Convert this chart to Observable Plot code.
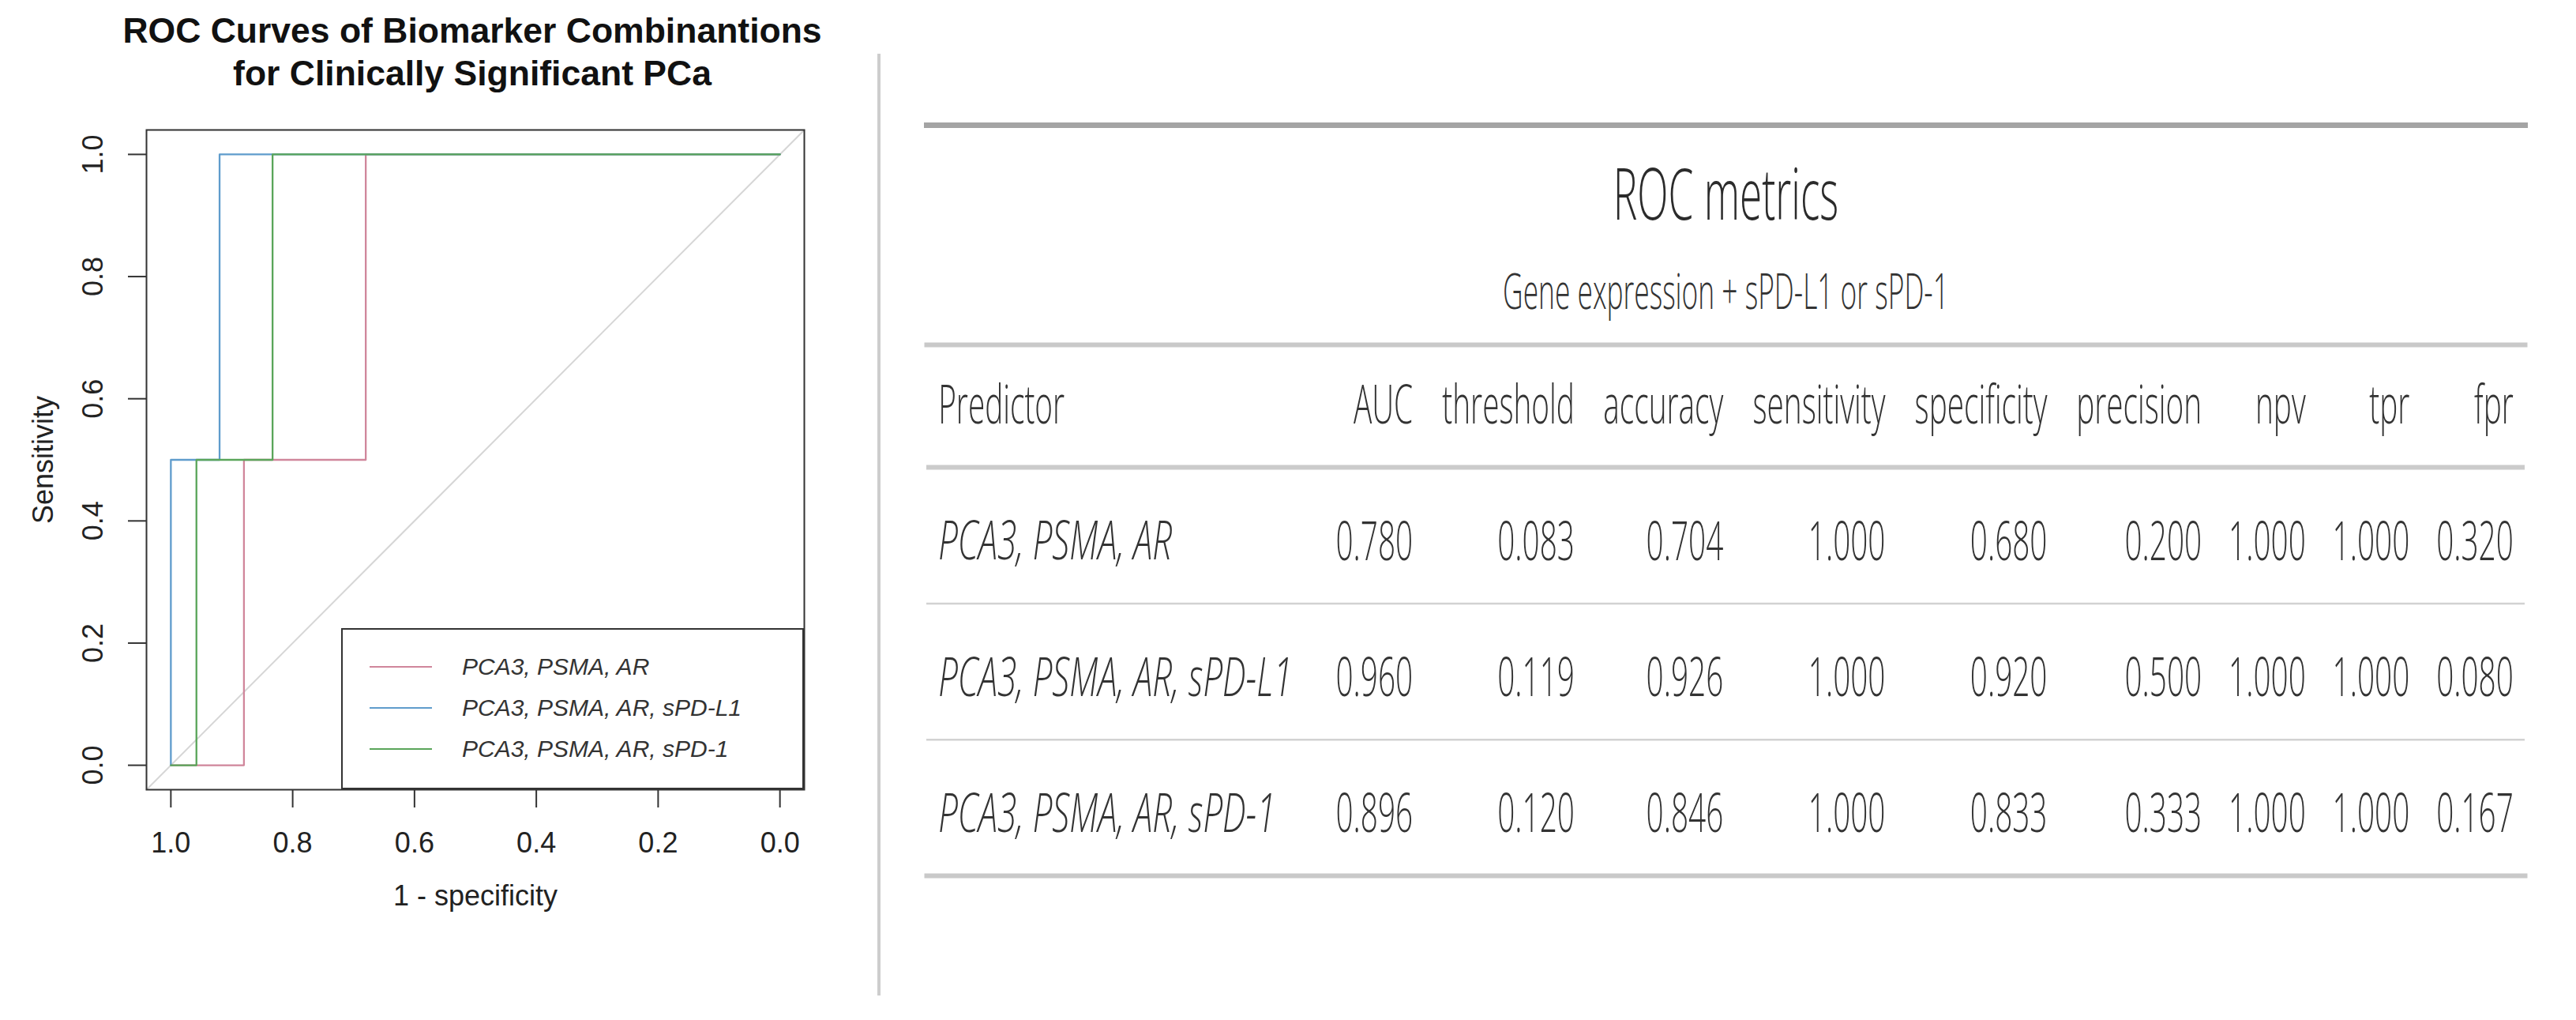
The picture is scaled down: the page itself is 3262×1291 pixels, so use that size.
<!DOCTYPE html>
<html>
<head>
<meta charset="utf-8">
<script src="https://cdn.jsdelivr.net/npm/d3@7"></script>
<script src="https://cdn.jsdelivr.net/npm/@observablehq/plot@0.6"></script>
<style>
  html, body { margin: 0; padding: 0; background: #fff; }
  #page { position: relative; width: 3262px; height: 1291px; overflow: hidden; background: #fff; }
  #roc { position: absolute; left: 0; top: 0; width: 1100px; height: 1291px; }
  #table { position: absolute; left: 1120px; top: 0; width: 2142px; height: 1291px; }
  #sep { position: absolute; left: 1111px; top: 68px; width: 4px; height: 1192px; background: #cdcdcd; }
  #legend { position: absolute; left: 432px; top: 795px; width: 586px; height: 204px; box-sizing: border-box;
            border: 2px solid #333; background: #fff; padding-top: 21px;
            font-family: "Liberation Sans", Arial, Helvetica, sans-serif; font-style: italic; font-size: 30px; color: #333; }
  #legend .row { height: 52px; display: flex; align-items: center; }
  #legend .sw { margin-left: 34px; width: 79px; height: 0; border-top: 2px solid; }
  #legend .lab { margin-left: 38px; white-space: nowrap; }
  svg { max-width: none !important; overflow: visible; }
</style>
</head>
<body>
<div id="page">
  <div id="roc"></div>
  <div id="legend"></div>
  <div id="sep"></div>
  <div id="table"></div>
</div>
<script>
// ---------------- ROC chart data ----------------
const titleLines = ["ROC Curves of Biomarker Combinantions", "for Clinically Significant PCa"];
const xLabel = "1 - specificity";
const yLabel = "Sensitivity";
const series = ["PCA3, PSMA, AR", "PCA3, PSMA, AR, sPD-L1", "PCA3, PSMA, AR, sPD-1"];
const seriesColors = ["#d0869b", "#5f9ccc", "#5aa55a"];
const specificityPts = [
  [1.000, 0.880, 0.880, 0.680, 0.680, 0.000],
  [1.000, 1.000, 0.920, 0.920, 0.000],
  [1.000, 0.958, 0.958, 0.833, 0.833, 0.000]
];
const sensitivityPts = [
  [0.0, 0.0, 0.5, 0.5, 1.0, 1.0],
  [0.0, 0.5, 0.5, 1.0, 1.0],
  [0.0, 0.0, 0.5, 0.5, 1.0, 1.0]
];
const axisTicks = [1.0, 0.8, 0.6, 0.4, 0.2, 0.0];

// ---------------- Table data ----------------
const tableTitle = "ROC metrics";
const tableSubtitle = "Gene expression + sPD-L1 or sPD-1";
const predictorHeader = "Predictor";
const metricNames = ["AUC", "threshold", "accuracy", "sensitivity", "specificity", "precision", "npv", "tpr", "fpr"];
const AUC         = [0.780, 0.960, 0.896];
const threshold   = [0.083, 0.119, 0.120];
const accuracy    = [0.704, 0.926, 0.846];
const sensitivity = [1.000, 1.000, 1.000];
const specificity = [0.680, 0.920, 0.833];
const precision   = [0.200, 0.500, 0.333];
const npv         = [1.000, 1.000, 1.000];
const tpr         = [1.000, 1.000, 1.000];
const fpr         = [0.320, 0.080, 0.167];
const metricValues = [AUC, threshold, accuracy, sensitivity, specificity, precision, npv, tpr, fpr];

// ---------------- ROC plot ----------------
const xDomain = [1.04, -0.04];   // R-style 4% axis expansion, reversed specificity
const yDomain = [-0.04, 1.04];
const rocData = series.flatMap((name, k) =>
  specificityPts[k].map((s, j) => ({series: name, spec: s, sens: sensitivityPts[k][j]})));
const fmt1 = d3.format(".1f");
const helv = '"Liberation Sans", Arial, Helvetica, sans-serif';

const roc = Plot.plot({
  width: 1100, height: 1291,
  marginLeft: 185, marginRight: 82, marginTop: 164, marginBottom: 292,
  x: {domain: xDomain, axis: null},
  y: {domain: yDomain, axis: null},
  color: {domain: series, range: seriesColors},
  style: {fontFamily: helv, color: "#222", background: "transparent", overflow: "visible"},
  marks: [
    Plot.line(xDomain, {x: d => d, y: d => 1 - d, stroke: "#d6d6d6", strokeWidth: 2}),
    Plot.line(rocData, {x: "spec", y: "sens", z: "series", stroke: "series", strokeWidth: 2.3}),
    Plot.frame({stroke: "#333", strokeWidth: 2}),
    Plot.axisX({ticks: axisTicks, tickSize: 23, tickPadding: 31, tickFormat: fmt1, fontSize: 36,
                label: null, stroke: "#333", strokeWidth: 2}),
    Plot.axisY({ticks: axisTicks, tickSize: 23, tickFormat: () => "", label: null, stroke: "#333", strokeWidth: 2}),
    Plot.text(axisTicks, {frameAnchor: "left", y: d => d, text: d => fmt1(d), rotate: -90, dx: -67,
                          textAnchor: "middle", lineAnchor: "middle", fontSize: 36, fill: "#222"}),
    Plot.text([xLabel], {frameAnchor: "bottom", text: d => d, dy: 146, lineAnchor: "bottom", fontSize: 36, fill: "#222"}),
    Plot.text([yLabel], {frameAnchor: "left", text: d => d, dx: -130, rotate: -90, lineAnchor: "middle",
                         textAnchor: "middle", fontSize: 36, fill: "#222"}),
    Plot.text([titleLines.join("\n")], {frameAnchor: "top", text: d => d, dy: -57, dx: -4, lineAnchor: "bottom",
                         lineHeight: 1.2, fontSize: 44.5, fontWeight: "bold", fill: "#111"})
  ]
});
document.getElementById("roc").appendChild(roc);

// legend (R-style boxed legend)
const legend = document.getElementById("legend");
series.forEach((name, k) => {
  const row = document.createElement("div");
  row.className = "row";
  const sw = document.createElement("div");
  sw.className = "sw";
  sw.style.borderTopColor = seriesColors[k];
  const lab = document.createElement("span");
  lab.className = "lab";
  lab.textContent = name;
  row.appendChild(sw); row.appendChild(lab);
  legend.appendChild(row);
});

// ---------------- Table (drawn with Plot text + rules) ----------------
const S = 0.57;            // horizontal condensation of the upright table font
const SI = 0.645;          // horizontal condensation of the italic predictor labels
const FS = 68;             // table body font size
const PAD = 14;            // cell padding (each side)
const tfont = '"Open Sans", "Noto Sans", sans-serif';
const ctx = document.createElement("canvas").getContext("2d");
function tw(str, italic) {
  ctx.font = `${italic ? "italic " : ""}300 ${FS}px ${tfont}`;
  return ctx.measureText(str).width * (italic ? SI : S);
}
const fmt3 = d3.format(".3f");

// column layout computed from content widths (auto table layout)
const colWidths = [];
colWidths.push(Math.max(tw(predictorHeader, false), ...series.map(s => tw(s, true))) + 2 * PAD);
metricNames.forEach((m, j) => {
  colWidths.push(Math.max(tw(m, false), ...metricValues[j].map(v => tw(fmt3(v), false))) + 2 * PAD);
});
const colLeft = [];
let acc = 0;
colWidths.forEach(w => { colLeft.push(acc); acc += w; });
const totalW = acc;

const headerCells = [{x: colLeft[0] + PAD, row: 0, text: predictorHeader}]
  .concat(metricNames.map((m, j) => ({x: colLeft[j + 1] + colWidths[j + 1] - PAD, row: 0, text: m})));
const labelCells = series.map((s, i) => ({x: colLeft[0] + PAD, row: i + 1, text: s}));
const valueCells = metricNames.flatMap((m, j) =>
  metricValues[j].map((v, i) => ({x: colLeft[j + 1] + colWidths[j + 1] - PAD, row: i + 1, text: fmt3(v)})));
const rowRules = series.slice(1).map((_, i) => i + 1.5);

const table = Plot.plot({
  width: 2142, height: 1291,
  marginLeft: 53, marginRight: 65, marginTop: 436, marginBottom: 183,
  x: {domain: [0, totalW], axis: null},
  y: {domain: [-0.4, series.length + 0.5], reverse: true, axis: null},
  style: {fontFamily: tfont, color: "#333", background: "transparent", overflow: "visible"},
  marks: [
    Plot.frame({anchor: "top", dy: -278, stroke: "#a4a4a4", strokeWidth: 7}),
    Plot.frame({anchor: "top", stroke: "#c9c9c9", strokeWidth: 6}),
    Plot.ruleY([0.5], {stroke: "#cbcbcb", strokeWidth: 6}),
    Plot.ruleY(rowRules, {stroke: "#d2d2d2", strokeWidth: 2.5}),
    Plot.frame({anchor: "bottom", stroke: "#c9c9c9", strokeWidth: 6}),
    Plot.text([tableTitle], {frameAnchor: "top", text: d => d, dy: -159, lineAnchor: "bottom",
                             fontSize: 90, fontWeight: 300, fill: "#2b2b2b"}),
    Plot.text([tableSubtitle], {frameAnchor: "top", text: d => d, dy: -46, lineAnchor: "bottom",
                                fontSize: 62, fontWeight: 300, fill: "#333"}),
    Plot.text(headerCells.slice(0, 1), {x: "x", y: "row", text: "text", textAnchor: "start", lineAnchor: "middle",
                                        dy: 9, fontSize: FS, fontWeight: 300, fill: "#333"}),
    Plot.text(headerCells.slice(1), {x: "x", y: "row", text: "text", textAnchor: "end", lineAnchor: "middle",
                                     dy: 9, fontSize: FS, fontWeight: 300, fill: "#333"}),
    Plot.text(labelCells, {x: "x", y: "row", text: "text", textAnchor: "start", lineAnchor: "middle",
                           dy: 9, fontSize: FS, fontWeight: 300, fontStyle: "italic", fill: "#333",
                           className: "italic-cells"}),
    Plot.text(valueCells, {x: "x", y: "row", text: "text", textAnchor: "end", lineAnchor: "middle",
                           dy: 9, fontSize: FS, fontWeight: 300, fill: "#333"})
  ]
});
// condense the table typography horizontally around each text anchor
table.querySelectorAll("text").forEach(t => {
  const italic = t.closest("g.italic-cells") !== null || t.getAttribute("font-style") === "italic" ||
                 (t.parentNode && t.parentNode.getAttribute && t.parentNode.getAttribute("font-style") === "italic");
  const k = italic ? SI : S;
  const tr = t.getAttribute("transform");
  if (tr) {
    t.setAttribute("transform", tr + ` scale(${k},1)`);
  } else {
    const x = +t.getAttribute("x") || 0, y = +t.getAttribute("y") || 0;
    t.setAttribute("x", 0); t.setAttribute("y", 0);
    t.setAttribute("transform", `translate(${x},${y}) scale(${k},1)`);
  }
});
document.getElementById("table").appendChild(table);
</script>
</body>
</html>
